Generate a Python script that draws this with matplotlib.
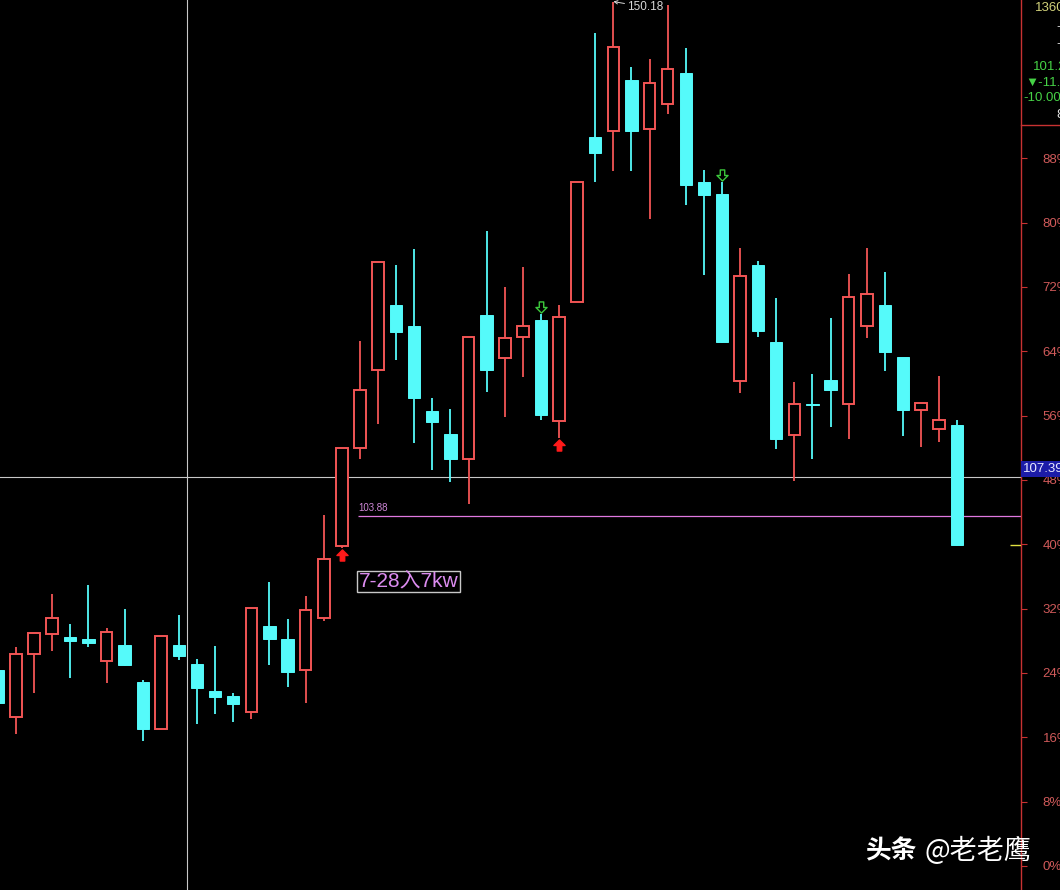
import matplotlib
matplotlib.use('Agg')
import matplotlib.pyplot as plt
from matplotlib.path import Path
from matplotlib.patches import Rectangle
from matplotlib.lines import Line2D

plt.rcParams['font.family'] = ['Liberation Sans', 'Noto Sans CJK SC', 'DejaVu Sans']

# ---- data ----
opens = [90.02, 85.79, 91.46, 93.26, 92.99, 92.81, 90.83, 92.27, 88.94, 84.71,
         92.27, 90.56, 88.13, 87.68, 86.24, 93.98, 92.81, 90.02, 94.70, 101.18,
         110.00, 117.02, 122.87, 120.98, 113.33, 111.26, 109.01, 121.97, 118.10, 119.99,
         121.52, 112.43, 123.14, 137.99, 138.53, 143.12, 138.71, 140.96, 143.75, 133.94,
         132.86, 116.03, 126.47, 119.54, 111.17, 113.96, 116.12, 113.96, 120.98, 122.87,
         118.19, 113.42, 111.71, 112.07]
closes = [87.05, 91.46, 93.35, 94.70, 92.63, 92.45, 93.44, 90.47, 84.71, 93.08,
          91.28, 88.40, 87.59, 86.96, 95.60, 92.81, 89.84, 95.42, 100.01, 110.00,
          115.22, 126.74, 120.44, 114.50, 112.34, 109.01, 119.99, 117.02, 119.90, 120.98,
          112.97, 121.79, 133.94, 136.55, 146.09, 138.53, 142.85, 144.11, 133.67, 132.77,
          119.54, 125.48, 120.53, 110.81, 113.96, 113.87, 115.22, 123.59, 123.86, 118.64,
          113.42, 114.05, 112.52, 101.27]
highs = [90.02, 92.09, 93.35, 96.86, 94.16, 97.67, 93.80, 95.51, 89.12, 93.08,
         94.97, 91.01, 92.18, 87.95, 95.60, 97.94, 94.61, 96.68, 103.97, 110.00,
         119.63, 126.74, 126.47, 127.91, 114.50, 113.51, 119.99, 129.53, 124.49, 126.29,
         122.06, 122.87, 133.94, 147.35, 150.18, 144.29, 145.01, 149.87, 146.00, 135.02,
         133.94, 128.00, 126.83, 123.50, 115.94, 116.66, 121.70, 125.66, 128.00, 125.84,
         118.19, 114.05, 116.48, 112.52]
lows = [87.05, 84.26, 87.95, 91.73, 89.30, 92.09, 88.85, 90.38, 83.63, 84.71,
        90.92, 85.16, 86.06, 85.34, 85.61, 90.47, 88.49, 87.05, 94.43, 101.00,
        109.01, 112.16, 117.92, 110.45, 108.02, 106.94, 104.96, 115.04, 112.79, 116.39,
        112.52, 110.90, 123.14, 133.94, 134.93, 134.93, 130.61, 140.06, 131.87, 125.57,
        119.45, 114.95, 119.99, 109.91, 107.03, 109.01, 111.89, 110.81, 119.90, 116.93,
        111.08, 110.09, 110.54, 101.18]

pct_ticks = [0, 8, 16, 24, 32, 40, 48, 56, 64, 72, 80, 88]
base_price = 72.38
crosshair_price = 107.39
crosshair_idx = 10.45
line_price = 103.88
peak_idx = 34
buy_idx = [19, 31]
sell_idx = [30, 40]
note_text = "7-28入7kw"
panel_texts = [("1360", '#d2d27a'), ("-", '#e0e0e0'), ("-", '#e0e0e0'),
               ("101.2", '#46d246'), ("▼-11.2", '#46d246'), ("-10.00", '#46d246'),
               ("8", '#e0e0e0')]

RED = '#f25555'
CYAN = '#55fafa'
W, H = 1060, 890

fig = plt.figure(figsize=(W / 100, H / 100), dpi=100, facecolor='black')
ax = fig.add_axes([0, 0, 1021 / W, 1])
ax.set_facecolor('black')
ax.set_xlim(0.116, 56.52)
ax.set_ylim(70.22, 150.32)

def fx(px):
    return px / W

def fy(py):
    return 1 - py / H

# candles
for i, (o, c, h, l) in enumerate(zip(opens, closes, highs, lows)):
    lo, hi = min(o, c), max(o, c)
    if c > o:
        w = 0.64
        ax.add_patch(Rectangle((i - w / 2, lo), w, hi - lo, facecolor='black',
                               edgecolor=RED, lw=1.4, zorder=3))
        col = RED
    else:
        w = 0.68
        ax.add_patch(Rectangle((i - w / 2, lo), w, max(hi - lo, 0.01), facecolor=CYAN,
                               edgecolor=CYAN, lw=0.7, zorder=3))
        col = CYAN
    if h > hi:
        ax.vlines(i, hi, h, color=col, lw=1.3, zorder=2)
    if l < lo:
        ax.vlines(i, l, lo, color=col, lw=1.3, zorder=2)

# arrow markers
arrow = Path([(0, 1), (1, 0), (0.4, 0), (0.4, -1), (-0.4, -1), (-0.4, 0), (-1, 0), (0, 1)],
             [Path.MOVETO] + [Path.LINETO] * 6 + [Path.CLOSEPOLY])
down_arrow = Path([(x, -y) for x, y in arrow.vertices], arrow.codes)
for i in buy_idx:
    ax.plot(i, lows[i] - 0.6, marker=arrow, ms=8, color='#ff1a1a', mec='#ff1a1a', zorder=5)
for i in sell_idx:
    ax.plot(i, highs[i] + 0.65, marker=down_arrow, ms=8, mfc='none', mec='#3cc83c', mew=1, zorder=5)

# crosshair
ax.axhline(crosshair_price, color='#c8c8c8', lw=0.8, zorder=1)
ax.axvline(crosshair_idx, color='#c8c8c8', lw=0.8, zorder=1)

# 103.88 line and label
ax.hlines(line_price, 19.88, 56.52, color='#e078e0', lw=0.9, zorder=2)
ax.text(19.9, line_price + 0.25, f"{line_price:.2f}", color='#d088d8', fontsize=7,
        ha='left', va='bottom', zorder=4)

# note box
ax.text(19.93, lows[19] - 3.0, note_text, color='#dc8cf0', fontsize=15, ha='left', va='center',
        zorder=6, bbox=dict(boxstyle='square,pad=0.06', facecolor='black', edgecolor='#c8c8c8', lw=1))

# peak label
ax.annotate(f"{highs[peak_idx]:.2f}", xy=(peak_idx, highs[peak_idx]), xytext=(10, -4),
            textcoords='offset points', color='#d8d8d8', fontsize=8.5, ha='left', va='center',
            arrowprops=dict(arrowstyle='->', color='#d8d8d8', lw=0.7, shrinkA=0, shrinkB=0,
                            mutation_scale=6), zorder=6)

# last price marker
ax.hlines(closes[-1], 55.92, 56.52, color='#e0e040', lw=1, zorder=4)

# axis styling
for s in ['left', 'top', 'bottom']:
    ax.spines[s].set_visible(False)
ax.spines['right'].set_color('#c83232')
ax.spines['right'].set_linewidth(1)
ax.set_xticks([])
ax.yaxis.tick_right()
ax.set_yticks([base_price * (1 + p / 100) for p in pct_ticks])
ax.set_yticklabels([f"{p}%" for p in pct_ticks])
ax.tick_params(axis='y', colors='#c83232', length=4.5, width=0.8, pad=11,
               labelsize=9.5, labelcolor='#d05a5a')

# right panel
fig.add_artist(Line2D([fx(1021), 1], [fy(125), fy(125)], color='#c83232', lw=1))
panel_pos = [(1035, 8), (1056, 27), (1056, 44), (1033, 67), (1025, 83), (1023, 98), (1056, 115)]
for (t, col), (px, py) in zip(panel_texts, panel_pos):
    fig.text(fx(px), fy(py), t, color=col, fontsize=9.5, ha='left', va='center')

fig.text(fx(1023), fy(469), f"{crosshair_price:.2f}", color='#e8e8ff', fontsize=9.5,
         ha='left', va='center', zorder=10,
         bbox=dict(boxstyle='square,pad=0.12', facecolor='#1c1ca8', edgecolor='none'))

# watermark
fig.text(fx(865), fy(851), "头条", color='white', fontsize=18.5, fontweight='bold',
         ha='left', va='center', family=['Noto Sans CJK SC', 'DejaVu Sans'])
fig.text(fx(924), fy(851), "@老老鹰", color='white', fontsize=19.5,
         ha='left', va='center', family=['Noto Sans CJK SC', 'DejaVu Sans'])

fig.savefig('out.png', dpi=100, facecolor='black')
